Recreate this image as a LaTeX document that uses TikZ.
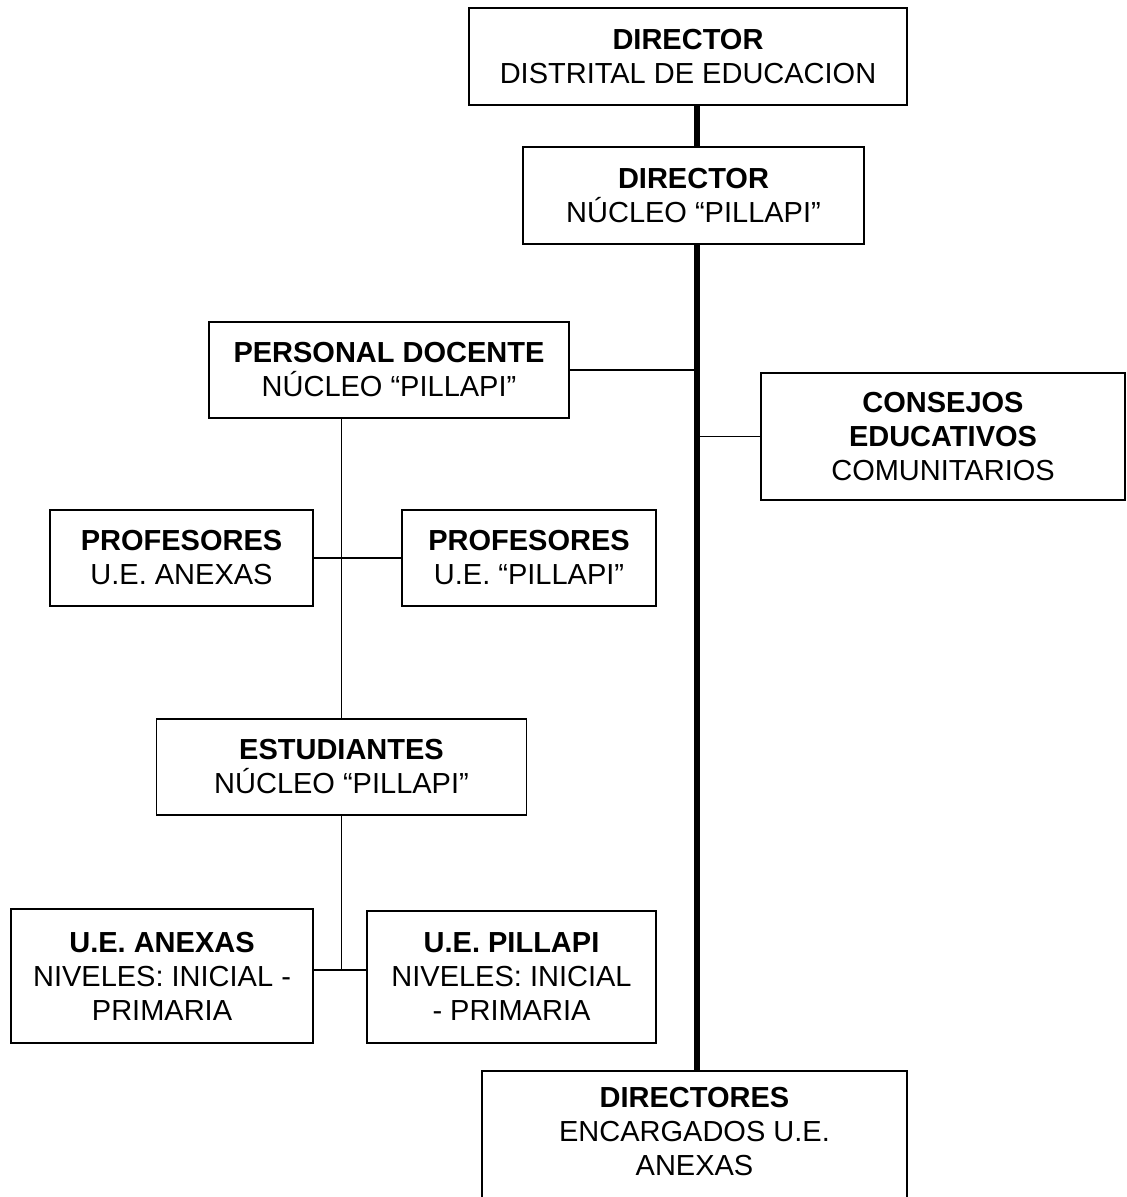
\documentclass[tikz,border=0pt]{standalone}
\usepackage{fontspec}
\setmainfont{Liberation Sans}

\begin{document}
\begin{tikzpicture}[x=0.5pt,y=-0.5pt,
  caja/.style={draw, line width=0.8pt, align=center, inner sep=0pt,
    font=\fontsize{14.5}{17}\selectfont},
  enlace/.style={line width=0.7pt},
  tronco/.style={line width=3pt}]
  \clip (0,0) rectangle (1126,1197);
  \useasboundingbox (0,0) rectangle (1126,1197);

  \node[caja, minimum width=219pt, minimum height=48.5pt] (dirdist) at (688,56.5)
    {\textbf{DIRECTOR}\\DISTRITAL DE EDUCACION};
  \node[caja, minimum width=170.5pt, minimum height=48.5pt] (dirnucleo) at (693.5,195.5)
    {\textbf{DIRECTOR}\\NÚCLEO “PILLAPI”};
  \node[caja, minimum width=180pt, minimum height=48pt] (docentes) at (389,370)
    {\textbf{PERSONAL DOCENTE}\\NÚCLEO “PILLAPI”};
  \node[caja, minimum width=182pt, minimum height=63.5pt] (consejos) at (943,436.5)
    {\textbf{CONSEJOS}\\\textbf{EDUCATIVOS}\\COMUNITARIOS};
  \node[caja, minimum width=131.5pt, minimum height=48pt] (profanexas) at (181.5,558)
    {\textbf{PROFESORES}\\U.E. ANEXAS};
  \node[caja, minimum width=127pt, minimum height=48pt] (profpillapi) at (529,558)
    {\textbf{PROFESORES}\\U.E. “PILLAPI”};
  \node[caja, minimum width=185pt, minimum height=48pt] (estudiantes) at (341.5,767)
    {\textbf{ESTUDIANTES}\\NÚCLEO “PILLAPI”};
  \node[caja, minimum width=151pt, minimum height=67pt] (ueanexas) at (162,976)
    {\textbf{U.E. ANEXAS}\\NIVELES: INICIAL -\\PRIMARIA};
  \node[caja, minimum width=144.5pt, minimum height=66pt] (uepillapi) at (511.5,977)
    {\textbf{U.E. PILLAPI}\\NIVELES: INICIAL\\- PRIMARIA};
  \node[caja, anchor=north, minimum width=212.5pt, text height=52.5pt, text depth=30pt] (directores) at (694.5,1070)
    {\textbf{DIRECTORES}\\ENCARGADOS U.E.\\ANEXAS};

  \coordinate (eje) at (697,0);
  \coordinate (ueunion) at (341.5,970);

  \draw[tronco] (dirdist.south -| eje) -- (dirnucleo.north -| eje);
  \draw[tronco] (dirnucleo.south -| eje) -- (directores.north -| eje);
  \path[enlace]
    (docentes.east) edge (docentes.east -| eje)
    (consejos.west) edge (consejos.west -| eje)
    (docentes.south -| estudiantes.north) edge (estudiantes.north)
    (profanexas.east) edge (profpillapi.west)
    (estudiantes.south) edge (ueunion)
    (ueanexas.east |- ueunion) edge (uepillapi.west |- ueunion);
\end{tikzpicture}
\end{document}
